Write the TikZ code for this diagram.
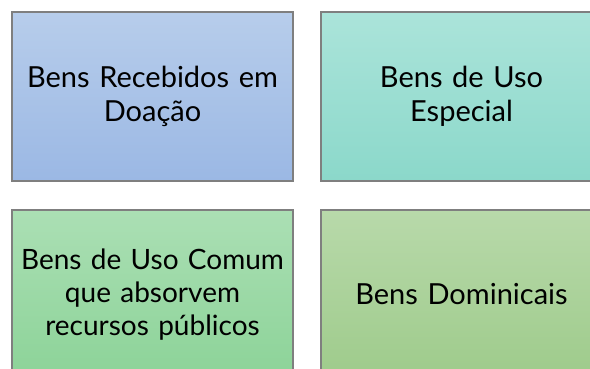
\documentclass[tikz,border=0pt]{standalone}
\usepackage{fontspec}
\setmainfont{Lato}
\definecolor{gray1}{HTML}{7F7F7F}
\definecolor{tlT}{HTML}{B7CDEB}\definecolor{tlB}{HTML}{9BB8E4}
\definecolor{trT}{HTML}{ABE4DA}\definecolor{trB}{HTML}{8BD8CA}
\definecolor{blT}{HTML}{ABDFB4}\definecolor{blB}{HTML}{8CD398}
\definecolor{brT}{HTML}{B8D9AA}\definecolor{brB}{HTML}{9ECB8B}
\tikzset{
  card/.style={rectangle, draw=gray1, line width=1.3pt, minimum width=281pt, minimum height=169pt,
    inner sep=0pt, text width=275pt, align=center, font=\fontsize{29}{34}\selectfont, text=black},
}
\begin{document}
\begin{tikzpicture}[x=1pt,y=-1pt]
\useasboundingbox (0,0) rectangle (590,369);
\clip (0,0) rectangle (590,369);
\node[card, top color=tlT, bottom color=tlB] (tl) at (152.5,96.5) {Bens Recebidos em\\Doação};
\node[card, top color=trT, bottom color=trB] (tr) at (461.5,96.5) {Bens de Uso\\Especial};
\node[card, top color=blT, bottom color=blB, font=\fontsize{28}{33}\selectfont] (bl) at (152.5,294.5) {Bens de Uso Comum\\que absorvem\\recursos públicos};
\node[card, top color=brT, bottom color=brB] (br) at (461.5,294.5) {Bens Dominicais};
\end{tikzpicture}
\end{document}
